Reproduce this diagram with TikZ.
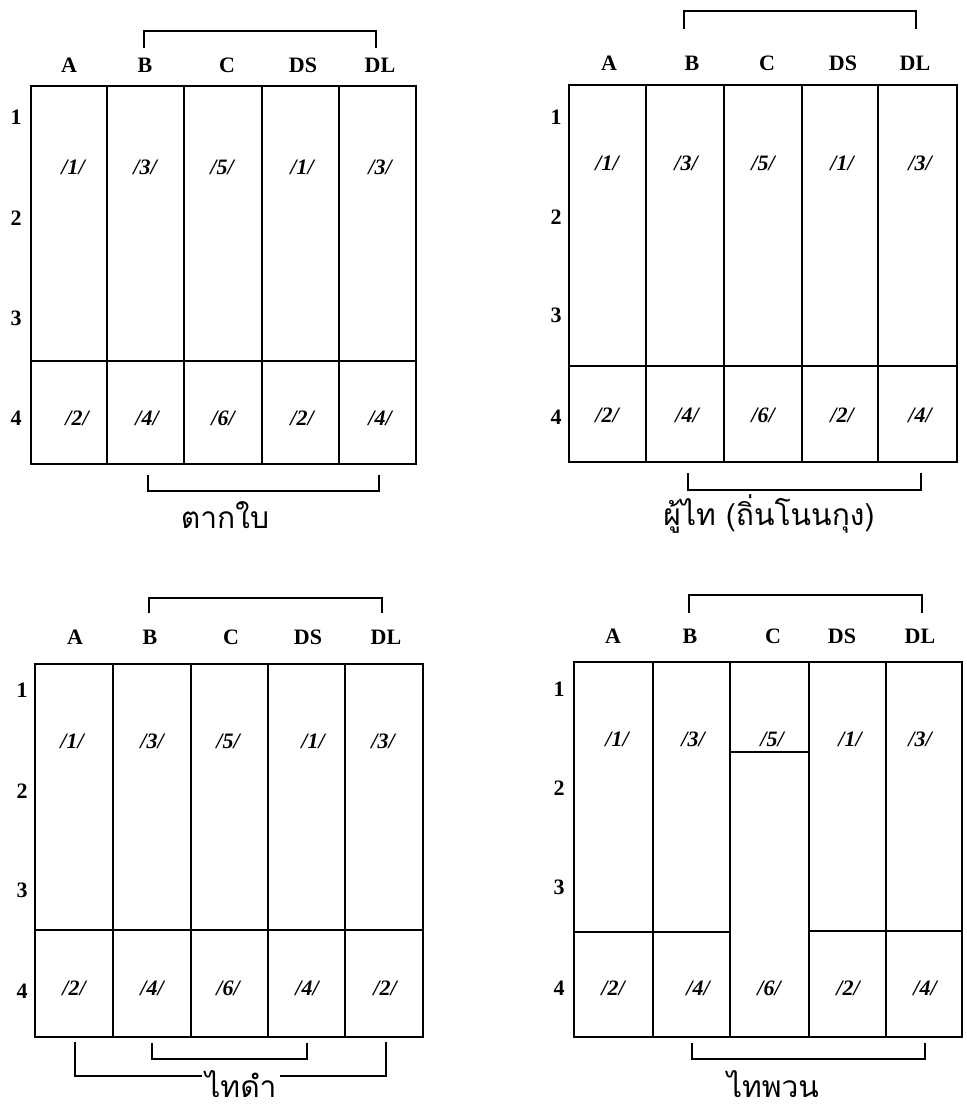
\documentclass[tikz,border=0pt]{standalone}
\usepackage{fontspec}
\setmainfont{Liberation Serif}
\newfontfamily\thaifont[Script=Thai]{Loma}
\begin{document}
\begin{tikzpicture}[x=1pt,y=-1pt,
  gridbox/.style={line width=2.6pt},
  divline/.style={line width=2pt},
  brk/.style={line width=1.5pt},
  collab/.style={font=\bfseries\fontsize{22}{22}\selectfont, inner sep=0pt},
  cell/.style={font=\bfseries\itshape\fontsize{22}{22}\selectfont, inner sep=0pt},
  thai/.style={font=\thaifont\fontsize{30}{32}\selectfont, inner sep=1pt}]
\useasboundingbox (0,0) rectangle (967,1112);

% ---------------- Panel 1 (top-left) ----------------
\draw[gridbox] (31,86) rectangle (416,464);
\foreach \x in {107,184,262,339} \draw[divline] (\x,86) -- (\x,464);
\draw[divline] (31,361) -- (416,361);
\foreach \x/\t [count=\i] in {69/A,145/B,227/C,303/DS,380/DL}
  \node[collab] (p1c\i) at (\x,65) {\t};
\foreach \y [count=\i] in {117,218,318,418}
  \node[collab] (p1r\i) at (16,\y) {\i};
\foreach \x/\t [count=\i] in {73/1,145/3,222/5,302/1,380/3}
  \node[cell] (p1u\i) at (\x,167) {/\t/};
\foreach \x/\t [count=\i] in {77/2,147/4,223/6,302/2,380/4}
  \node[cell] (p1l\i) at (\x,418) {/\t/};
\coordinate (p1ta) at (144,48); \coordinate (p1tb) at (376,31); \coordinate (p1tc) at (376,48);
\draw[brk] (p1ta) |- (p1tb) -- (p1tc);
\coordinate (p1ba) at (148,475); \coordinate (p1bb) at (379,491); \coordinate (p1bc) at (379,475);
\draw[brk] (p1ba) |- (p1bb) -- (p1bc);
\node[thai] (p1name) at (225,515) {ตากใบ};

% ---------------- Panel 2 (top-right) ----------------
\draw[gridbox] (569,85) rectangle (957,462);
\foreach \x in {646,724,802,878} \draw[divline] (\x,85) -- (\x,462);
\draw[divline] (569,366) -- (957,366);
\foreach \x/\t [count=\i] in {609/A,692/B,767/C,843/DS,915/DL}
  \node[collab] (p2c\i) at (\x,63) {\t};
\foreach \y [count=\i] in {117,217,315,417}
  \node[collab] (p2r\i) at (556,\y) {\i};
\foreach \x/\t [count=\i] in {607/1,686/3,763/5,842/1,920/3}
  \node[cell] (p2u\i) at (\x,163) {/\t/};
\foreach \x/\t [count=\i] in {607/2,687/4,763/6,842/2,920/4}
  \node[cell] (p2l\i) at (\x,415) {/\t/};
\coordinate (p2ta) at (684,29); \coordinate (p2tb) at (916,11); \coordinate (p2tc) at (916,29);
\draw[brk] (p2ta) |- (p2tb) -- (p2tc);
\coordinate (p2ba) at (688,473); \coordinate (p2bb) at (921,490); \coordinate (p2bc) at (921,473);
\draw[brk] (p2ba) |- (p2bb) -- (p2bc);
\node[thai] (p2name) at (769,514) {ผู้ไท (ถิ่นโนนกุง)};

% ---------------- Panel 3 (bottom-left) ----------------
\draw[gridbox] (35,664) rectangle (423,1037);
\foreach \x in {113,191,268,345} \draw[divline] (\x,664) -- (\x,1037);
\draw[divline] (35,930) -- (423,930);
\foreach \x/\t [count=\i] in {75/A,150/B,231/C,308/DS,386/DL}
  \node[collab] (p3c\i) at (\x,637) {\t};
\foreach \y [count=\i] in {690,791,890,991}
  \node[collab] (p3r\i) at (22,\y) {\i};
\foreach \x/\t [count=\i] in {72/1,152/3,228/5,313/1,383/3}
  \node[cell] (p3u\i) at (\x,741) {/\t/};
\foreach \x/\t [count=\i] in {74/2,152/4,228/6,307/4,385/2}
  \node[cell] (p3l\i) at (\x,988) {/\t/};
\coordinate (p3ta) at (149,613); \coordinate (p3tb) at (382,598); \coordinate (p3tc) at (382,613);
\draw[brk] (p3ta) |- (p3tb) -- (p3tc);
\coordinate (p3ia) at (152,1043); \coordinate (p3ib) at (307,1059); \coordinate (p3ic) at (307,1043);
\draw[brk] (p3ia) |- (p3ib) -- (p3ic);
\coordinate (p3oa) at (75,1042); \coordinate (p3ob) at (386,1076); \coordinate (p3oc) at (386,1042);
\draw[brk] (p3oa) |- (p3ob) -- (p3oc);
\node[thai, fill=white, inner xsep=3pt, inner ysep=0pt] (p3name) at (241,1084) {ไทดำ};

% ---------------- Panel 4 (bottom-right) ----------------
\draw[gridbox] (574,662) rectangle (962,1037);
\foreach \x in {653,730,809,886} \draw[divline] (\x,662) -- (\x,1037);
\draw[divline] (574,932) -- (730,932);
\draw[divline] (809,931) -- (962,931);
\draw[divline] (730,752) -- (809,752);
\foreach \x/\t [count=\i] in {613/A,690/B,773/C,842/DS,920/DL}
  \node[collab] (p4c\i) at (\x,636) {\t};
\foreach \y [count=\i] in {689,788,887,988}
  \node[collab] (p4r\i) at (559,\y) {\i};
\foreach \x/\t [count=\i] in {617/1,693/3,772/5,850/1,920/3}
  \node[cell] (p4u\i) at (\x,739) {/\t/};
\foreach \x/\t [count=\i] in {613/2,698/4,769/6,848/2,925/4}
  \node[cell] (p4l\i) at (\x,988) {/\t/};
\coordinate (p4ta) at (689,613); \coordinate (p4tb) at (922,595); \coordinate (p4tc) at (922,613);
\draw[brk] (p4ta) |- (p4tb) -- (p4tc);
\coordinate (p4ba) at (692,1043); \coordinate (p4bb) at (925,1059); \coordinate (p4bc) at (925,1043);
\draw[brk] (p4ba) |- (p4bb) -- (p4bc);
\node[thai] (p4name) at (773,1084) {ไทพวน};
\end{tikzpicture}
\end{document}
